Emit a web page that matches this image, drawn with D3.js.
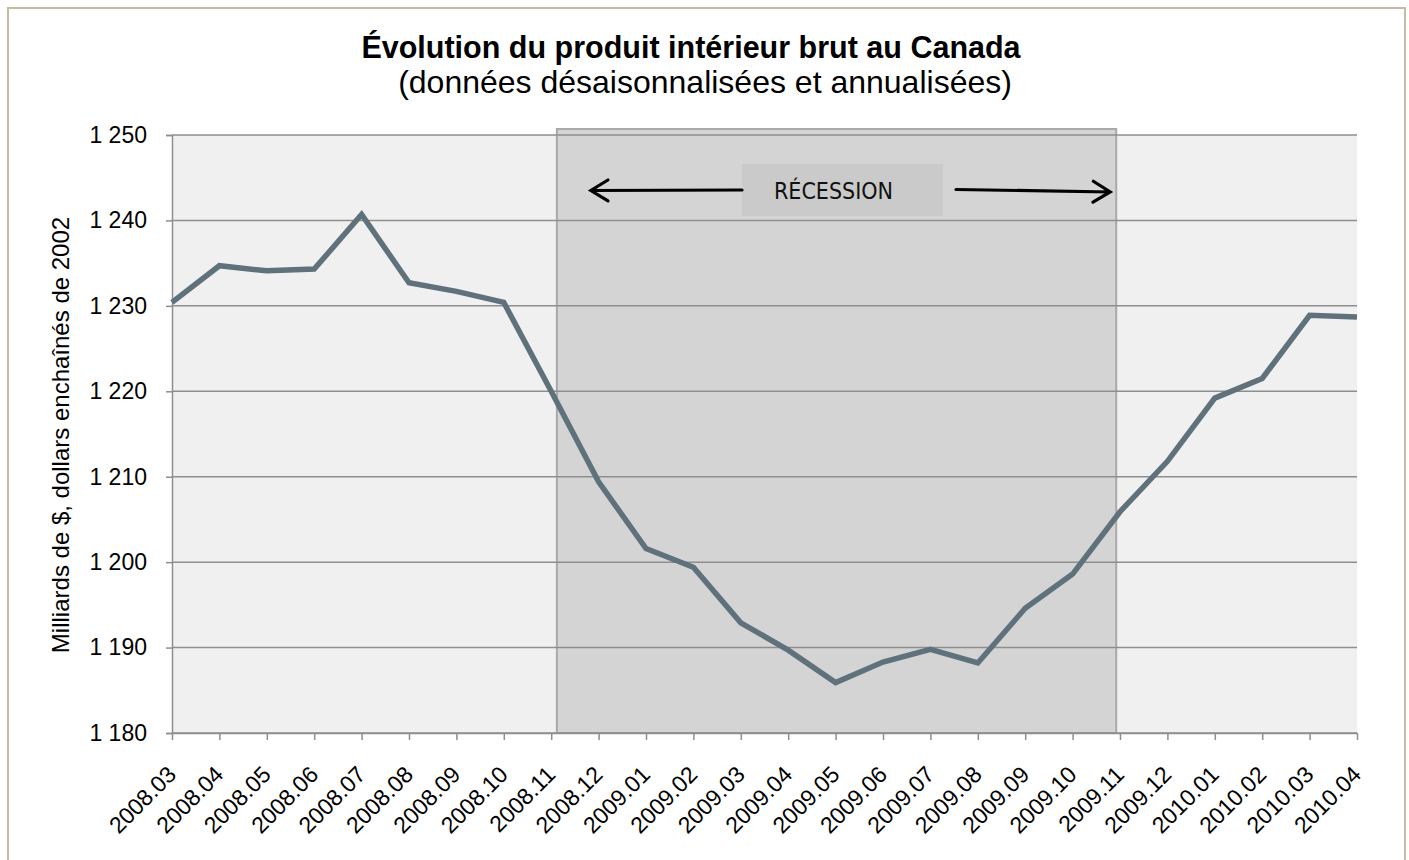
<!DOCTYPE html>
<html lang="fr">
<head>
<meta charset="utf-8">
<title>PIB Canada</title>
<script src="https://cdn.jsdelivr.net/npm/d3@7"></script>
<style>
  body { margin: 0; background: #fff; }
  text { font-family: Arial, "Liberation Sans", sans-serif; }
</style>
</head>
<body>
<svg id="chart" width="1409" height="860"></svg>
<script>
// Données (milliards de $, dollars enchaînés de 2002)
var months = ["2008.03", "2008.04", "2008.05", "2008.06", "2008.07", "2008.08", "2008.09",
              "2008.10", "2008.11", "2008.12", "2009.01", "2009.02", "2009.03", "2009.04",
              "2009.05", "2009.06", "2009.07", "2009.08", "2009.09", "2009.10", "2009.11",
              "2009.12", "2010.01", "2010.02", "2010.03", "2010.04"];
var gdp = [1230.4, 1234.7, 1234.1, 1234.3, 1240.7, 1232.7, 1231.7, 1230.4, 1220.0, 1209.4,
           1201.6, 1199.4, 1192.9, 1189.7, 1185.9, 1188.3, 1189.8, 1188.2, 1194.6, 1198.6,
           1205.9, 1211.8, 1219.2, 1221.5, 1228.9, 1228.7];
var yTicks = [1180, 1190, 1200, 1210, 1220, 1230, 1240, 1250];
var recession = ["2008.11", "2009.11"];

var svg = d3.select("#chart");

// cadre extérieur
svg.append("rect")
    .attr("x", 8).attr("y", 8)
    .attr("width", 1397).attr("height", 870)
    .attr("fill", "#fff")
    .attr("stroke", "#c3bba6")
    .attr("stroke-width", 2);

var pLeft = 172, pRight = 1357, pTop = 135, pBottom = 733;

var x = d3.scalePoint().domain(months).range([pLeft, pRight]);
var y = d3.scaleLinear().domain([1180, 1250]).range([pBottom, pTop]);
var step = x.step();

// fond de la zone de tracé
svg.append("rect")
    .attr("x", pLeft).attr("y", pTop)
    .attr("width", pRight - pLeft).attr("height", pBottom - pTop)
    .attr("fill", "#f0f0f0");

// zone de récession
var rx0 = x(recession[0]) + step * 0.12;
var rx1 = x(recession[1]) - step * 0.08;
svg.append("rect")
    .attr("x", rx0).attr("y", pTop - 6)
    .attr("width", rx1 - rx0).attr("height", pBottom - pTop + 6)
    .attr("fill", "#d4d4d4")
    .attr("stroke", "#a9a9a9")
    .attr("stroke-width", 2);

// grille horizontale
svg.append("g").selectAll("line")
    .data(yTicks)
    .enter()
    .append("line")
    .attr("x1", pLeft).attr("x2", pRight)
    .attr("y1", function(d) { return y(d); })
    .attr("y2", function(d) { return y(d); })
    .attr("stroke", "#8e8e8e")
    .attr("stroke-width", 1.5);

// axe Y
var yAxis = svg.append("g")
    .attr("transform", "translate(" + pLeft + ",0)")
    .call(d3.axisLeft(y).tickValues(yTicks).tickSize(6).tickPadding(19)
        .tickFormat(function(d) { return d3.format(",")(d).replace(",", " "); }));
yAxis.select(".domain").attr("stroke", "#8e8e8e").attr("stroke-width", 1.5);
yAxis.selectAll(".tick line").attr("stroke", "#8e8e8e").attr("stroke-width", 1.5);
yAxis.selectAll(".tick text")
    .attr("fill", "#000")
    .style("font-size", "23px")
    .style("font-family", "Arial, 'Liberation Sans', sans-serif");

// axe X
var xAxis = svg.append("g")
    .attr("transform", "translate(0," + pBottom + ")")
    .call(d3.axisBottom(x).tickSize(7).tickSizeOuter(0));
xAxis.select(".domain").attr("stroke", "#8e8e8e").attr("stroke-width", 1.5);
xAxis.selectAll(".tick line").attr("stroke", "#8e8e8e").attr("stroke-width", 1.5);
xAxis.selectAll(".tick text")
    .attr("fill", "#000")
    .attr("text-anchor", "end")
    .attr("dy", null)
    .attr("y", null)
    .attr("transform", "translate(5,43) rotate(-45)")
    .style("font-size", "23px")
    .style("font-family", "Arial, 'Liberation Sans', sans-serif");

// étiquette RÉCESSION et flèches
var cy = 190;
var boxX = 742, boxW = 201;
svg.append("rect")
    .attr("x", boxX).attr("y", 164)
    .attr("width", boxW).attr("height", 52)
    .attr("fill", "#cacaca");
svg.append("text")
    .attr("x", boxX + boxW / 2 - 9).attr("y", cy + 9)
    .attr("text-anchor", "middle")
    .style("font-family", "'Liberation Sans Narrow', 'DejaVu Sans Condensed', sans-serif")
    .style("font-size", "23px")
    .attr("fill", "#111")
    .text("RÉCESSION");

function arrow(x1, y1, x2, y2) {
    var ang = Math.atan2(y2 - y1, x2 - x1);
    var len = 20, spread = 0.55;
    var p = d3.path();
    p.moveTo(x1, y1); p.lineTo(x2, y2);
    p.moveTo(x2 - len * Math.cos(ang - spread), y2 - len * Math.sin(ang - spread));
    p.lineTo(x2, y2);
    p.lineTo(x2 - len * Math.cos(ang + spread), y2 - len * Math.sin(ang + spread));
    svg.append("path")
        .attr("d", p.toString())
        .attr("fill", "none")
        .attr("stroke", "#000")
        .attr("stroke-width", 3.2)
        .attr("stroke-linecap", "round")
        .attr("stroke-linejoin", "miter");
}
arrow(boxX, cy, rx0 + 34, cy + 0.5);
arrow(boxX + boxW + 13, cy - 0.5, rx1 - 6, cy + 2);

// série
var line = d3.line()
    .x(function(d, i) { return x(months[i]); })
    .y(function(d) { return y(d); });
svg.append("path")
    .datum(gdp)
    .attr("d", line)
    .attr("fill", "none")
    .attr("stroke", "#5f717b")
    .attr("stroke-width", 5.5)
    .attr("stroke-linejoin", "miter");

// titres
svg.append("text")
    .attr("x", 691).attr("y", 58)
    .attr("text-anchor", "middle")
    .style("font-size", "30.5px")
    .style("font-weight", "bold")
    .text("Évolution du produit intérieur brut au Canada");
svg.append("text")
    .attr("x", 705).attr("y", 93)
    .attr("text-anchor", "middle")
    .style("font-size", "32px")
    .text("(données désaisonnalisées et annualisées)");

svg.append("text")
    .attr("transform", "translate(69,435) rotate(-90)")
    .attr("text-anchor", "middle")
    .style("font-size", "24px")
    .text("Milliards de $, dollars enchaînés de 2002");
</script>
</body>
</html>
